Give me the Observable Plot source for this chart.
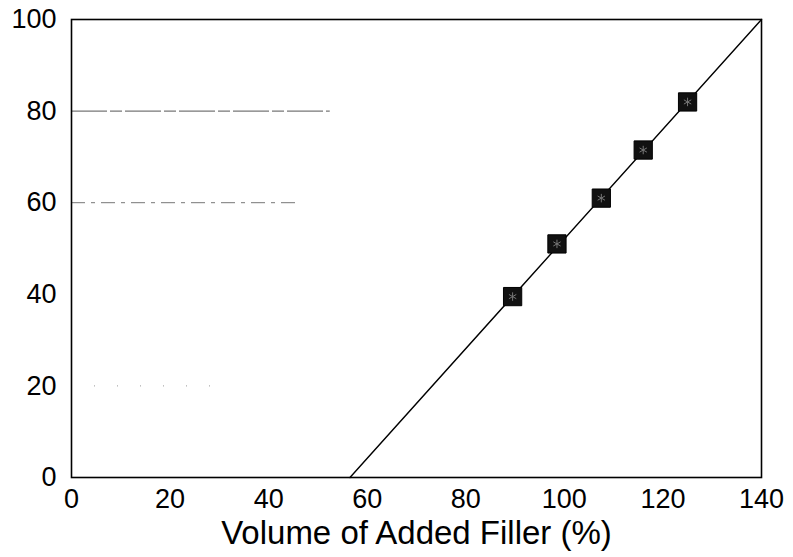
<!DOCTYPE html>
<html>
<head>
<meta charset="utf-8">
<script src="https://cdn.jsdelivr.net/npm/d3@7"></script>
<script src="https://cdn.jsdelivr.net/npm/@observablehq/plot@0.6"></script>
<style>
  html, body { margin: 0; padding: 0; background: #fff; }
  #chart svg { font-family: "Liberation Sans", Arial, sans-serif; }
</style>
</head>
<body>
<div id="chart"></div>
<script>
// Data
const fillerVolume = [89.5, 98.5, 107.5, 116, 125];      // x (%)
const measured     = [39.5, 51, 61, 71.5, 82];           // y
const fitX = [56.5, 140];                                 // fitted line ends
const fitY = [0, 100];
const xTicks = [0, 20, 40, 60, 80, 100, 120, 140];
const yTicks = [0, 20, 40, 60, 80, 100];
const xTitle = "Volume of Added Filler (%)";
// faint remnants of gridlines in the scanned figure
const gridLevels = [80, 60, 20];
const gridEnds   = [52.5, 46.5, 30];
const gridDash   = ["36,3,12,3", "14,6,4,6", "1,22"];
const gridColor  = ["#555", "#777", "#999"];

const points = fillerVolume.map((x, i) => ({x, y: measured[i]}));
const fit = fitX.map((x, i) => ({x, y: fitY[i]}));
const grid = gridLevels.map((y, i) => ({y, x2: gridEnds[i], dash: gridDash[i], color: gridColor[i]}));

const chart = Plot.plot({
  width: 793,
  height: 557,
  marginLeft: 71,
  marginRight: 32,
  marginTop: 19,
  marginBottom: 80,
  style: {fontFamily: '"Liberation Sans", Arial, sans-serif', fontSize: "27px", color: "#000", background: "#fff"},
  x: {domain: [0, 140], ticks: xTicks, label: null},
  y: {domain: [0, 100], ticks: yTicks, label: null},
  marks: [
    ...grid.map(g => Plot.ruleY([g], {y: "y", x1: 0, x2: "x2", stroke: g.color, strokeWidth: 1, strokeDasharray: g.dash})),
    Plot.frame({stroke: "#000", strokeWidth: 1.6}),
    Plot.axisX({ticks: xTicks, tickSize: 0, tickPadding: 11, label: null}),
    Plot.axisY({ticks: yTicks, tickSize: 0, tickPadding: 15, label: null}),
    Plot.line(fit, {x: "x", y: "y", stroke: "#000", strokeWidth: 1.4}),
    Plot.dot(points, {x: "x", y: "y", symbol: "square", r: 10.3, fill: "#111", stroke: "#000", strokeWidth: 1}),
    Plot.dot(points, {x: "x", y: "y", symbol: "asterisk", r: 4, stroke: "#777", strokeWidth: 1}),
    Plot.text([xTitle], {frameAnchor: "bottom", dy: 56, lineAnchor: "middle", fontSize: 33, fill: "#000", text: d => d})
  ]
});
document.getElementById("chart").appendChild(chart);
</script>
</body>
</html>
